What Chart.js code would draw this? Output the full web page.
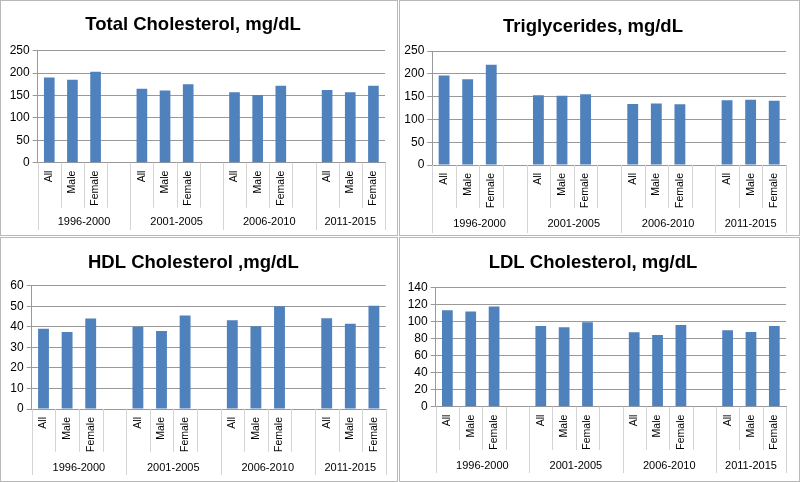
<!DOCTYPE html>
<html>
<head>
<meta charset="utf-8">
<script src="https://cdn.jsdelivr.net/npm/chart.js@4.4.1/dist/chart.umd.min.js"></script>
<style>
  body { margin: 0; background: #fff; }
  .panel { position: absolute; box-sizing: border-box; border: 1px solid #b8b8b8; background: #fff; }
  .panel canvas { display: block; }
</style>
</head>
<body>
<div class="panel" style="left:0;top:0;width:398px;height:236px"><canvas id="c1" width="396" height="234"></canvas></div>
<div class="panel" style="left:399px;top:0;width:401px;height:236px"><canvas id="c2" width="399" height="234"></canvas></div>
<div class="panel" style="left:0;top:237px;width:398px;height:245px"><canvas id="c3" width="396" height="243"></canvas></div>
<div class="panel" style="left:399px;top:237px;width:401px;height:245px"><canvas id="c4" width="399" height="243"></canvas></div>
<script>
const categoryLabels = ['All', 'Male', 'Female', '', 'All', 'Male', 'Female', '', 'All', 'Male', 'Female', '', 'All', 'Male', 'Female'];
const periodLabels = ['1996-2000', '2001-2005', '2006-2010', '2011-2015'];

const totalChol = [190, 185, 203, null, 165, 161, 175, null, 157, 151, 172, null, 162, 157, 172];
const triglycerides = [196, 188, 220, null, 153, 152, 155, null, 134, 135, 133, null, 142, 143, 141];
const hdlChol = [39, 37.5, 44, null, 40, 38, 45.5, null, 43.2, 40.3, 50, null, 44.2, 41.5, 50.2];
const ldlChol = [113.5, 112, 118, null, 95, 93.5, 99.5, null, 87.5, 84.5, 96, null, 90, 88, 95];

const yMaxes = [250, 250, 60, 140];
const ySteps = [50, 50, 10, 20];

Chart.defaults.font.family = "'Liberation Sans', Arial, sans-serif";
Chart.defaults.color = '#000';

const gridColor = '#999999';
const sepColor = '#d4d4d4';

// each period runs from its 'All' up to the next 'All' (blank spacer included)
const periodStarts = categoryLabels.map((l, i) => l === 'All' ? i : -1).filter(i => i >= 0);
const periodCenters = periodStarts.map((s, k) => {
    const end = k + 1 < periodStarts.length ? periodStarts[k + 1] - 1 : categoryLabels.length - 1;
    return (s + end) / 2;
});

const separatorPlugin = {
    id: 'separators',
    afterDraw(chart, args, opts) {
        const x = chart.scales.x;
        const ctx = chart.ctx;
        const step = x.getPixelForValue(1) - x.getPixelForValue(0);
        ctx.save();
        ctx.strokeStyle = sepColor;
        ctx.lineWidth = 1;
        for (let i = 0; i <= categoryLabels.length; i++) {
            const px = Math.round(x.getPixelForValue(i) - step / 2) + 0.5;
            const groupEdge = i === categoryLabels.length || categoryLabels[i] === 'All';
            const bottom = groupEdge ? chart.height - opts.groupGap : x.bottom;
            ctx.beginPath();
            ctx.moveTo(px, x.top);
            ctx.lineTo(px, bottom);
            ctx.stroke();
        }
        ctx.restore();
    }
};

function makeChart(id, title, values, yMax, yStep, box) {
    const ctx = document.getElementById(id).getContext('2d');
    return new Chart(ctx, {
        type: 'bar',
        data: {
            labels: categoryLabels,
            datasets: [{
                data: values,
                backgroundColor: '#4f81bd',
                borderWidth: 0,
                categoryPercentage: 1,
                barPercentage: 0.46
            }]
        },
        options: {
            responsive: false,
            animation: false,
            events: [],
            layout: { padding: { left: 0, right: box.padRight, top: 0, bottom: 0 } },
            plugins: {
                legend: { display: false },
                tooltip: { enabled: false },
                title: {
                    display: true,
                    text: title,
                    color: '#000',
                    font: { size: 18.5, weight: 'bold' },
                    padding: { top: box.titleTop + 1.5, bottom: box.titleBottom - 1.5 }
                },
                separators: { groupGap: box.groupGap }
            },
            scales: {
                x: {
                    type: 'category',
                    grid: { display: false, drawTicks: false },
                    border: { display: true, color: gridColor },
                    ticks: { autoSkip: false, minRotation: 90, maxRotation: 90, padding: 8, font: { size: 10.5 } },
                    afterFit(s) { s.height = box.xHeight; }
                },
                x2: {
                    type: 'linear',
                    position: 'bottom',
                    weight: 1,
                    offset: false,
                    bounds: 'data',
                    min: -0.5,
                    max: categoryLabels.length - 0.5,
                    grid: { display: false, drawTicks: false, offset: false },
                    border: { display: false },
                    afterBuildTicks(s) { s.ticks = periodCenters.map(v => ({ value: v })); },
                    ticks: {
                        autoSkip: false,
                        maxRotation: 0,
                        padding: box.x2Pad,
                        font: { size: 11 },
                        callback: (v, i) => periodLabels[i]
                    },
                    afterFit(s) { s.height = box.x2Height; }
                },
                y: {
                    min: 0,
                    max: yMax,
                    ticks: { stepSize: yStep, autoSkip: false, padding: 3, font: { size: 12 } },
                    grid: { color: gridColor, tickLength: 5 },
                    border: { color: gridColor },
                    afterFit(s) { s.width = box.yWidth; }
                }
            }
        },
        plugins: [separatorPlugin]
    });
}

makeChart('c1', 'Total Cholesterol, mg/dL', totalChol, yMaxes[0], ySteps[0],
    { yWidth: 36.7, padRight: 12, titleTop: 10.9, titleBottom: 16.6, xHeight: 45, x2Height: 27.3, x2Pad: 7.7, groupGap: 5 });
makeChart('c2', 'Triglycerides, mg/dL', triglycerides, yMaxes[1], ySteps[1],
    { yWidth: 32.3, padRight: 13, titleTop: 12.9, titleBottom: 14.9, xHeight: 43, x2Height: 27, x2Pad: 9.4, groupGap: 2 });
makeChart('c3', 'HDL Cholesterol ,mg/dL', hdlChol, yMaxes[2], ySteps[2],
    { yWidth: 30.7, padRight: 11.3, titleTop: 12.6, titleBottom: 12.9, xHeight: 42.7, x2Height: 29.3, x2Pad: 9.7, groupGap: 6 });
makeChart('c4', 'LDL Cholesterol, mg/dL', ldlChol, yMaxes[3], ySteps[3],
    { yWidth: 35.7, padRight: 13, titleTop: 12.6, titleBottom: 14.9, xHeight: 43.3, x2Height: 31, x2Pad: 9.4, groupGap: 8 });
</script>
</body>
</html>
